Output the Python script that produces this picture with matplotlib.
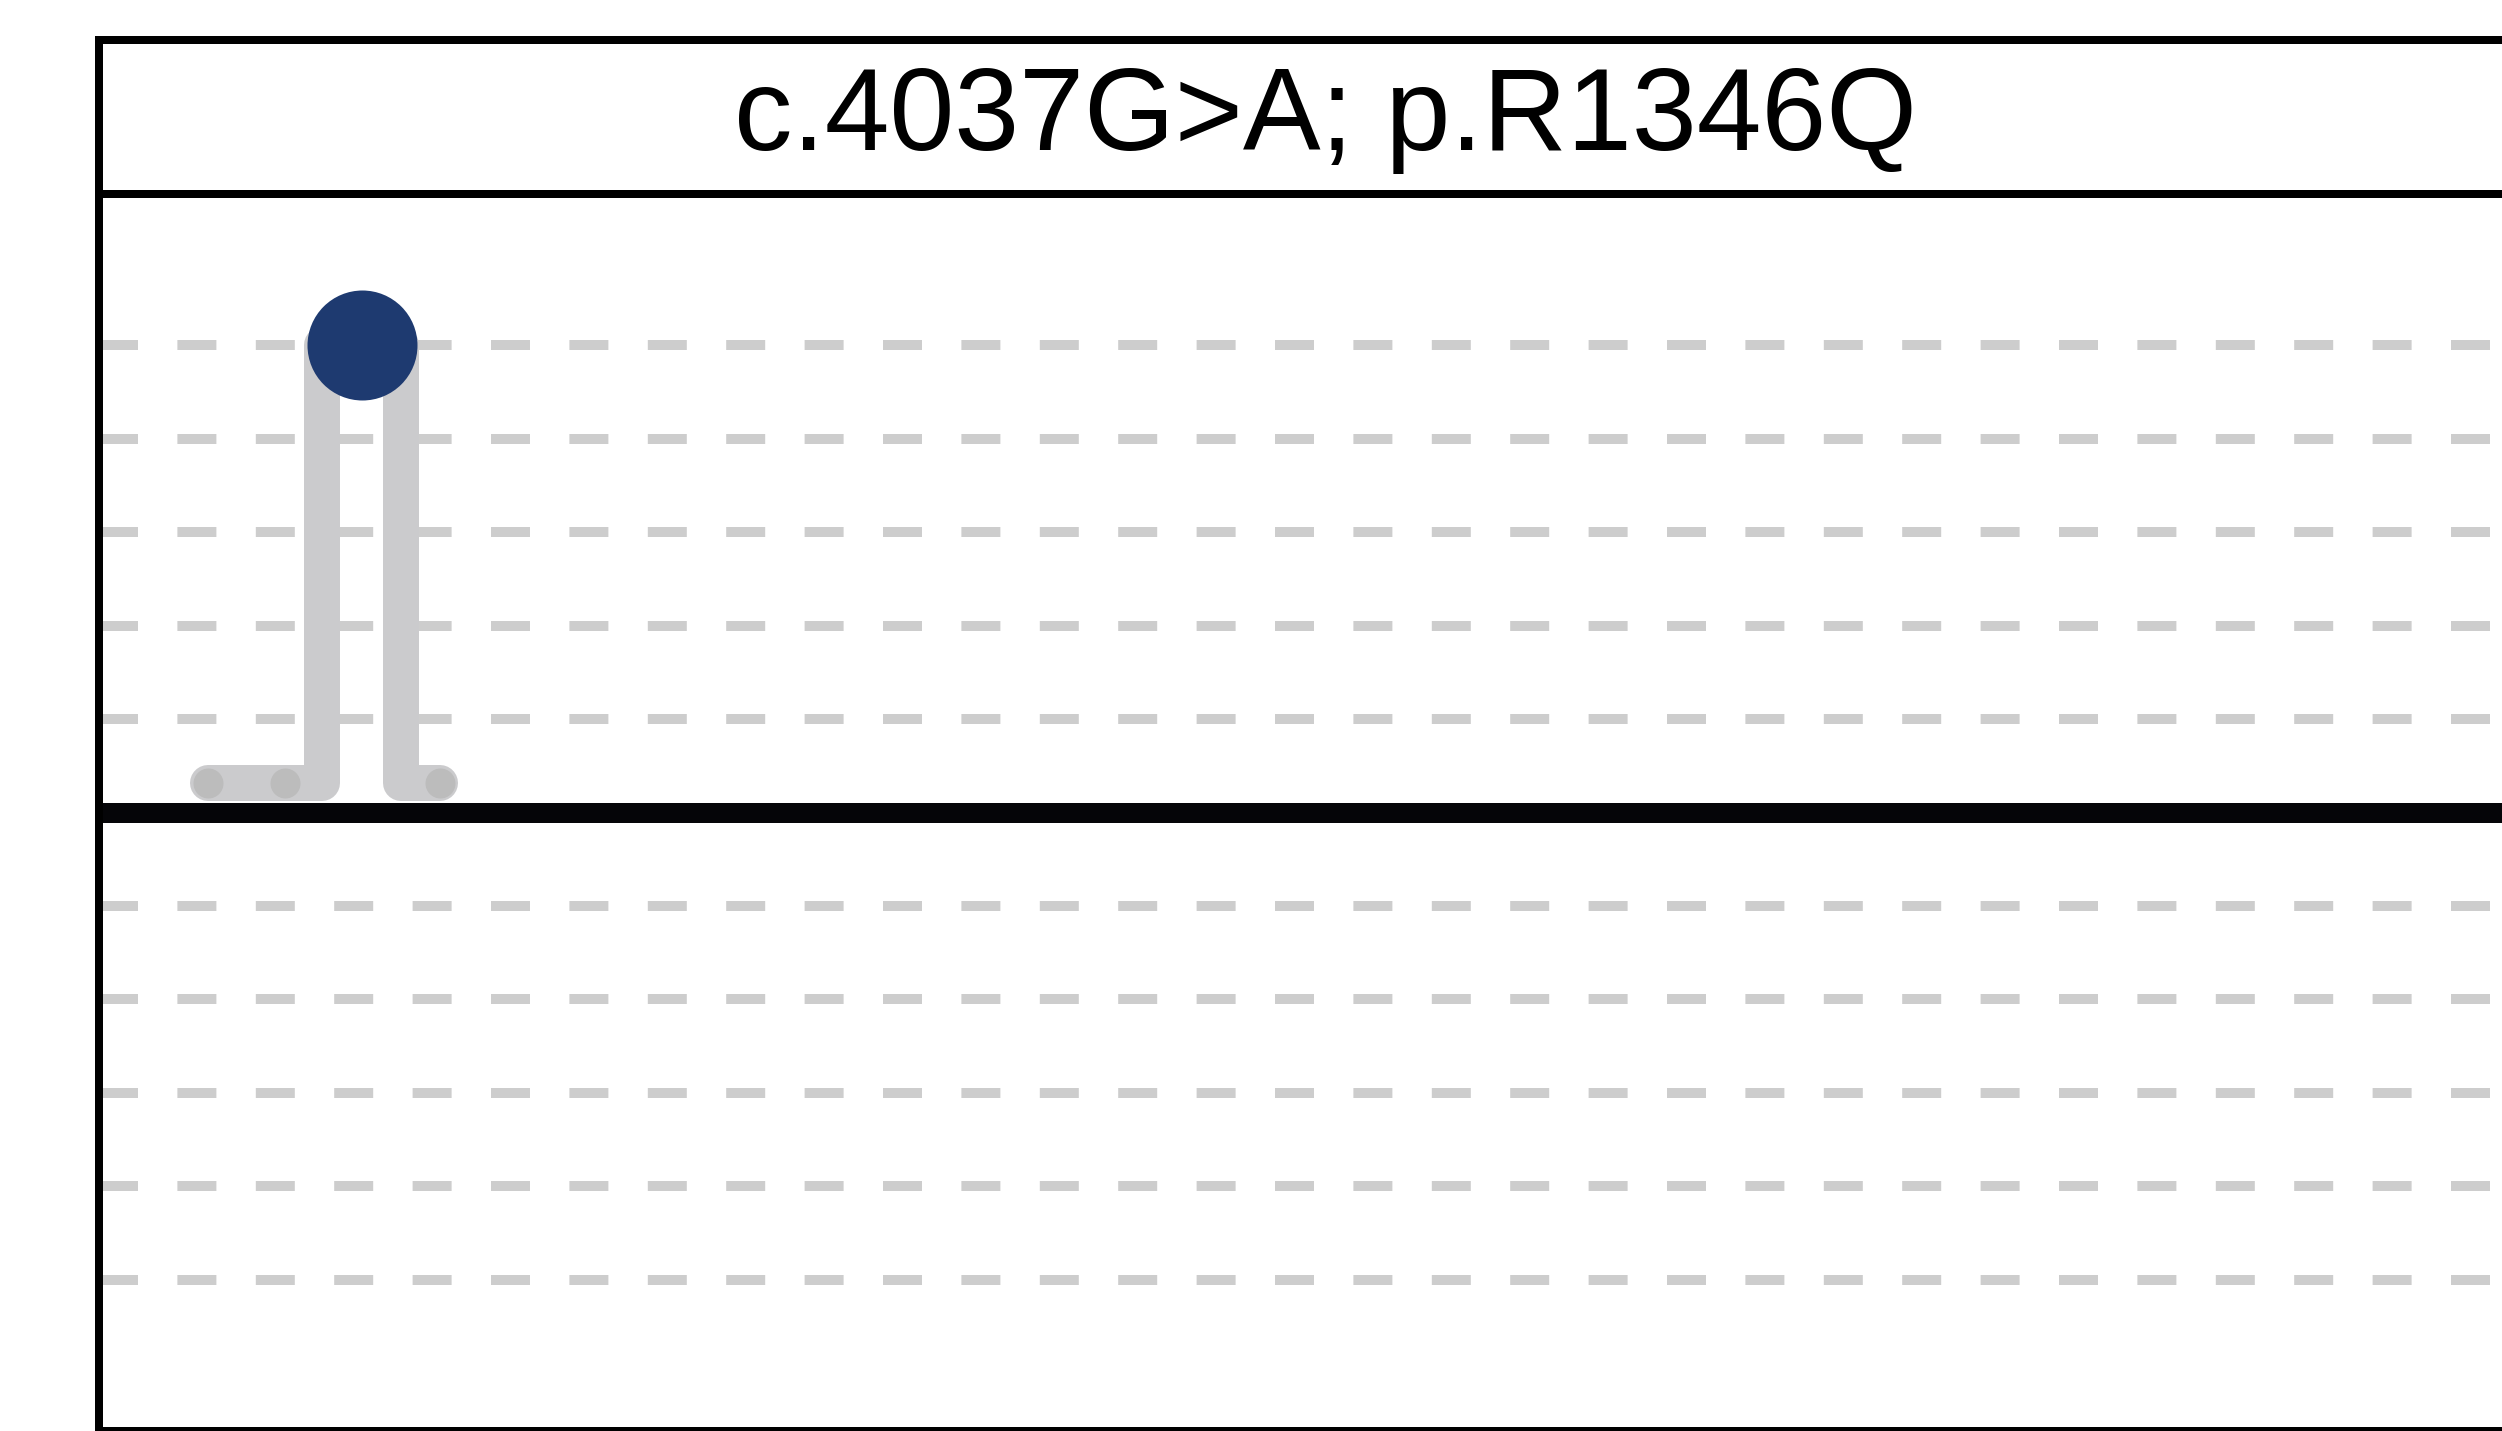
import matplotlib
matplotlib.use("Agg")
import matplotlib.pyplot as plt

plt.rcParams['font.family'] = ['Liberation Sans', 'DejaVu Sans']
plt.rcParams['lines.scale_dashes'] = False

# ---- data ----
title_text = "c.4037G>A; p.R1346Q"
grid_levels = [-5, -4, -3, -2, -1, 1, 2, 3, 4, 5]
path_x = [4.45, 9.09, 9.09, 12.32, 12.32, 13.91]
path_y = [0.32, 0.32, 5.0, 5.0, 0.32, 0.32]
site_x = [4.45, 7.59, 13.91]
site_y = [0.32, 0.32, 0.32]
mut_x = [10.73]
mut_y = [5.0]

W, H = 2502, 1431
DPI = 100
fig = plt.figure(figsize=(W / DPI, H / DPI), dpi=DPI)
px = 72.0 / DPI  # points per pixel

left = 99 / W
width = (2551 - 99) / W
main_top = (H - 194) / H
strip_top = (H - 40) / H

ax = fig.add_axes([left, 0.0, width, main_top])
strip = fig.add_axes([left, main_top, width, strip_top - main_top])

ax.set_xlim(0, 100)
ax.set_ylim(-6.62, 6.62)
ax.set_yticks(grid_levels)
ax.set_xticks([])
ax.tick_params(length=0, labelleft=False, labelbottom=False)
ax.grid(axis='y', color='#cdcdcd', linewidth=10 * px,
        linestyle=(0, (39 * px, 39.4 * px)), dash_capstyle='butt')
ax.set_axisbelow(True)
ax.axhline(0, color='#050508', linewidth=20 * px, zorder=2)

ax.plot(path_x, path_y, color='#cbcbcd', linewidth=36 * px,
        solid_joinstyle='round', solid_capstyle='round', zorder=3)
ax.plot(site_x, site_y, 'o', color='#bcbcbc', markersize=30 * px,
        markeredgewidth=0, zorder=4)
ax.plot(mut_x, mut_y, 'o', color='#1e3a70', markersize=110 * px,
        markeredgewidth=0, zorder=5)

for s in ax.spines.values():
    s.set_linewidth(8 * px)
    s.set_color('black')

strip.set_xticks([])
strip.set_yticks([])
for s in strip.spines.values():
    s.set_linewidth(8 * px)
    s.set_color('black')
strip.text(0.5, (194 - 150) / 154, title_text, transform=strip.transAxes,
           ha='center', va='baseline', fontsize=84, color='black')

fig.savefig('out.png', dpi=DPI, facecolor='white')
